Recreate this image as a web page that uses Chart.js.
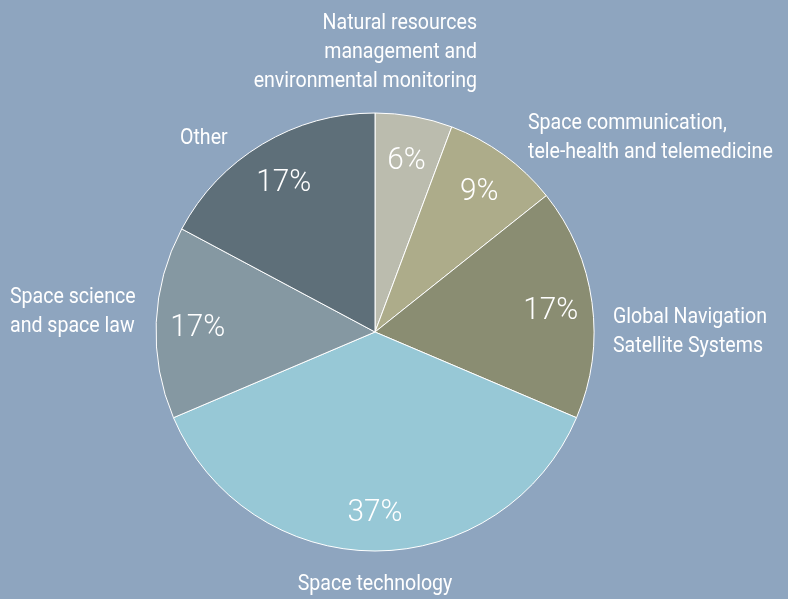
<!DOCTYPE html>
<html>
<head>
<meta charset="utf-8">
<script src="https://cdn.jsdelivr.net/npm/chart.js@4"></script>
<style>
  html, body { margin: 0; padding: 0; background: #8ea5bf; }
  canvas { display: block; }
</style>
</head>
<body>
<canvas id="cPie" width="788" height="599"></canvas>
<script>
/* ── data ───────────────────────────── */
const categories = [
  ['Natural resources', 'management and', 'environmental monitoring'],
  ['Space communication,', 'tele-health and telemedicine'],
  ['Global Navigation', 'Satellite Systems'],
  ['Space technology'],
  ['Space science', 'and space law'],
  ['Other']
];
// shares as drawn (slice angles)
const shares     = [5.7, 8.6, 17.1, 37.2, 14.2, 17.2];
// percentages as printed on the slices
const pctLabels  = ['6%', '9%', '17%', '37%', '17%', '17%'];

const colors = ['#bbbcae', '#adac8a', '#8a8d72', '#97c8d6', '#8598a2', '#5e6f79'];

const FONT = "Roboto, 'Liberation Sans', sans-serif";

// outer label placement: offset from pie centre (px), first baseline, alignment
const outerPos = [
  { dx: 102,  dy: -302.7, align: 'right'  },
  { dx: 153,  dy: -202.7, align: 'left'   },
  { dx: 238,  dy: -8.7,   align: 'left'   },
  { dx: 0,    dy: 258,    align: 'center' },
  { dx: -365, dy: -28.7,  align: 'left'   },
  { dx: -195, dy: -188,   align: 'left'   }
];

// condensed look: draw text squeezed horizontally
function squeezed(ctx, text, x, y, sx) {
  ctx.save();
  ctx.translate(x, y);
  ctx.scale(sx, 1);
  ctx.fillText(text, 0, 0);
  ctx.restore();
}

const labelsPlugin = {
  id: 'pieLabels',
  afterDatasetsDraw(chart) {
    const ctx = chart.ctx;
    const meta = chart.getDatasetMeta(0);
    ctx.save();
    ctx.fillStyle = '#ffffff';
    ctx.textBaseline = 'alphabetic';

    // percentages inside slices
    const pSize = 32;
    ctx.font = `300 ${pSize}px ${FONT}`;
    ctx.textAlign = 'center';
    meta.data.forEach((arc, i) => {
      const p = arc.getProps(['x', 'y', 'startAngle', 'endAngle', 'outerRadius'], true);
      const mid = (p.startAngle + p.endAngle) / 2;
      const r = p.outerRadius * 0.81;
      squeezed(ctx, pctLabels[i], p.x + Math.cos(mid) * r, p.y + Math.sin(mid) * r + pSize * 0.355, 0.93);
    });

    // category names outside
    const lSize = 22.5, lh = 28.6;
    ctx.font = `${lSize}px ${FONT}`;
    const c = meta.data[0].getProps(['x', 'y'], true);
    categories.forEach((lines, i) => {
      const o = outerPos[i];
      ctx.textAlign = o.align;
      lines.forEach((t, k) => squeezed(ctx, t, c.x + o.dx, c.y + o.dy + k * lh, 0.87));
    });
    ctx.restore();
  }
};

new Chart('cPie', {
  type: 'pie',
  data: {
    labels: categories.map(l => l.join(' ')),
    datasets: [{
      data: shares,
      backgroundColor: colors,
      borderColor: '#ffffff',
      borderWidth: 1
    }]
  },
  options: {
    responsive: false, animation: false,
    layout: { padding: { top: 112.5, bottom: 47.5, left: 100, right: 138 } },
    plugins: { legend: { display: false }, tooltip: { enabled: false } }
  },
  plugins: [labelsPlugin]
});
</script>
</body>
</html>
